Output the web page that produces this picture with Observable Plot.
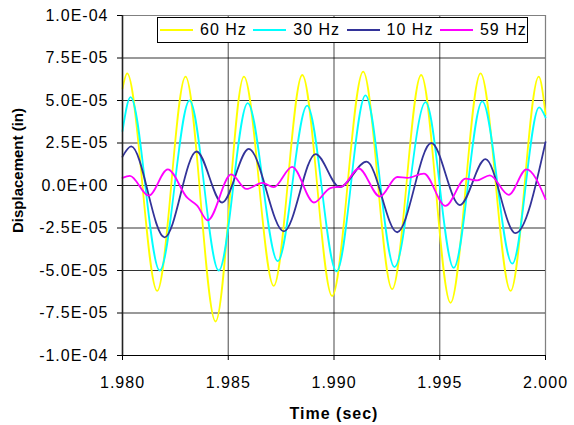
<!DOCTYPE html>
<html><head><meta charset="utf-8">
<script src="https://cdn.jsdelivr.net/npm/d3@7"></script>
<script src="https://cdn.jsdelivr.net/npm/@observablehq/plot@0.6"></script>
<style>
body{margin:0;background:#fff;}
#wrap{position:relative;width:574px;height:425px;font-family:"Liberation Sans",Arial,sans-serif;}
#legend{position:absolute;left:157px;top:17px;width:367px;height:24px;border:1px solid #000;background:#fff;display:flex;align-items:center;padding-left:2px;}
.item{width:93.3px;display:flex;align-items:center;flex:none;}
.sw{width:33px;height:2px;margin-right:7px;flex:none;}
.lab{font-size:16px;letter-spacing:1px;color:#000;white-space:nowrap;}
</style></head>
<body>
<div id="wrap"></div>
<script>
// ---- data ----
const seriesNames = ["60 Hz", "30 Hz", "10 Hz", "59 Hz"];
const seriesColors = ["#FFFF00", "#00FFFF", "#333399", "#FF00FF"];

const t60 = [1.98000, 1.98022, 1.98164, 1.98298, 1.98440, 1.98574, 1.98715, 1.98850, 1.98991, 1.99138, 1.99275, 1.99412, 1.99551, 1.99693, 1.99835, 1.99968, 2.00000];
const v60 = [5.7e-5, 6.6e-5, -6.2e-5, 6.4e-5, -8.0e-5, 6.4e-5, -5.9e-5, 6.5e-5, -6.5e-5, 6.7e-5, -6.1e-5, 6.5e-5, -6.9e-5, 6.6e-5, -6.2e-5, 6.4e-5, 4.2e-5];

const t30 = [1.98000, 1.98038, 1.98176, 1.98317, 1.98455, 1.98592, 1.98734, 1.98873, 1.99012, 1.99149, 1.99286, 1.99433, 1.99566, 1.99701, 1.99843, 1.99970, 2.00000];
const v30 = [3.2e-5, 5.2e-5, -5.0e-5, 5.0e-5, -5.0e-5, 4.85e-5, -4.45e-5, 4.7e-5, -5.05e-5, 5.3e-5, -4.8e-5, 4.9e-5, -4.85e-5, 4.95e-5, -4.6e-5, 4.6e-5, 4.0e-5];

const t10 = [1.98000, 1.98041, 1.98199, 1.98350, 1.98471, 1.98597, 1.98763, 1.98913, 1.99027, 1.99154, 1.99299, 1.99460, 1.99595, 1.99716, 1.99858, 2.00000];
const v10 = [1.7e-5, 2.3e-5, -3.05e-5, 2.0e-5, -1.0e-5, 2.15e-5, -2.7e-5, 1.85e-5, -0.1e-5, 1.4e-5, -2.75e-5, 2.5e-5, -1.15e-5, 1.55e-5, -2.8e-5, 2.55e-5];

const t59 = [1.98000, 1.98035, 1.98124, 1.98214, 1.98306, 1.98353, 1.98403, 1.98514, 1.98586, 1.98661, 1.98715, 1.98802, 1.98905, 1.98983, 1.99039, 1.99117, 1.99217, 1.99299, 1.99346, 1.99425, 1.99527, 1.99622, 1.99677, 1.99737, 1.99826, 1.99910, 2.00000];
const v59 = [0.45e-5, 0.57e-5, -0.6e-5, 0.95e-5, -0.72e-5, -1.18e-5, -2.05e-5, 0.65e-5, -0.2e-5, 0.15e-5, -0.1e-5, 1.1e-5, -1.0e-5, -0.15e-5, -0.05e-5, 1.0e-5, -0.65e-5, 0.5e-5, 0.45e-5, 0.7e-5, -1.2e-5, 0.4e-5, 0.3e-5, 0.6e-5, -0.55e-5, 0.95e-5, -0.8e-5];

const xTicks = [1.980, 1.985, 1.990, 1.995, 2.000];
const xTickLabels = ["1.980", "1.985", "1.990", "1.995", "2.000"];
const yTicks = [-1e-4, -7.5e-5, -5e-5, -2.5e-5, 0, 2.5e-5, 5e-5, 7.5e-5, 1e-4];
const yTickLabels = ["-1.0E-04", "-7.5E-05", "-5.0E-05", "-2.5E-05", "0.0E+00", "2.5E-05", "5.0E-05", "7.5E-05", "1.0E-04"];
const xTitle = "Time (sec)";
const yTitle = "Displacement (in)";

// ---- build ----
const times = [t60, t30, t10, t59];
const vals = [v60, v30, v10, v59];
const lineMarks = times.map((t, k) =>
  Plot.line(d3.range(t.length), {
    x: i => t[i], y: i => vals[k][i],
    stroke: seriesColors[k], strokeWidth: 1.8, curve: "monotone-x"
  })
);

const chart = Plot.plot({
  width: 574, height: 425,
  marginLeft: 122, marginRight: 29, marginTop: 15, marginBottom: 70,
  style: {fontFamily: '"Liberation Sans", Arial, sans-serif', fontSize: "16px", color: "#000", background: "#fff"},
  x: {domain: [1.98, 2.0]},
  y: {domain: [-1e-4, 1e-4]},
  marks: [
    Plot.gridY(yTicks, {stroke: "#000", strokeOpacity: 0.8}),
    Plot.gridX(xTicks, {stroke: "#000", strokeOpacity: 0.6, strokeWidth: 1.2}),
    Plot.frame({stroke: "#808080"}),
    ...lineMarks,
    Plot.ruleX([1.98], {stroke: "#222", strokeWidth: 1.5}),
    Plot.ruleY([-1e-4], {stroke: "#000"}),
    Plot.axisY(yTicks, {tickFormat: d => yTickLabels[yTicks.indexOf(d)], tickSize: 5, tickPadding: 9, label: null, fontSize: 16}),
    Plot.axisX(xTicks, {tickFormat: d => xTickLabels[xTicks.indexOf(d)], tickSize: 5, tickPadding: 16, label: null, fontSize: 16}),
    Plot.text([xTitle], {text: d => d, frameAnchor: "bottom", dy: 58, textAnchor: "middle", lineAnchor: "middle", fontWeight: "bold", fontSize: 16}),
    Plot.text([yTitle], {text: d => d, frameAnchor: "left", dx: -104, dy: -15, rotate: -90, textAnchor: "middle", lineAnchor: "middle", fontWeight: "bold", fontSize: 15})
  ]
});
const wrap = document.getElementById("wrap");
wrap.appendChild(chart);
d3.select(chart).selectAll("text")
  .filter(function(){ return this.textContent !== yTitle; })
  .style("letter-spacing", "1px");

// legend
const legend = document.createElement("div");
legend.id = "legend";
seriesNames.forEach((n, k) => {
  const it = document.createElement("div"); it.className = "item";
  const sw = document.createElement("span"); sw.className = "sw"; sw.style.background = seriesColors[k];
  const lb = document.createElement("span"); lb.className = "lab"; lb.textContent = n;
  it.appendChild(sw); it.appendChild(lb); legend.appendChild(it);
});
wrap.appendChild(legend);
</script>
</body></html>
